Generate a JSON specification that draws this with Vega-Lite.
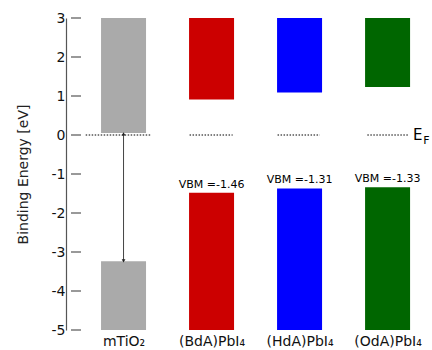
{
  "$schema": "https://vega.github.io/schema/vega-lite/v6.json",
  "width": 366,
  "height": 312,
  "autosize": {"type": "none"},
  "padding": {"left": 66, "top": 18, "right": 0, "bottom": 20},
  "background": "white",
  "config": {
    "view": {"stroke": null},
    "font": "DejaVu Sans",
    "axisY": {
      "values": [-5, -4, -3, -2, -1, 0, 1, 2, 3],
      "grid": false,
      "labelOverlap": false,
      "labelBound": false,
      "labelFlush": false,
      "domain": true,
      "domainColor": "#555555",
      "domainWidth": 1.2,
      "ticks": false,
      "tickSize": 0,
      "labelFont": "DejaVu Sans",
      "labelFontSize": 14,
      "labelColor": "#111111",
      "labelPadding": 1,
      "titleFont": "DejaVu Sans",
      "titleFontSize": 14,
      "titleFontWeight": "normal",
      "titleColor": "#222222",
      "titlePadding": 21,
      "labelExpr": "replace(datum.label, '−', '-')"
    },
    "axisX": {
      "domain": false,
      "ticks": false,
      "grid": false,
      "labelOverlap": false,
      "labelFont": "DejaVu Sans",
      "labelFontSize": 14,
      "labelColor": "#111111",
      "labelPadding": 4
    }
  },
  "datasets": {
    "bands": [
      {"pos": 1, "name": "mTiO2", "lo": 0.05, "hi": 3},
      {"pos": 1, "name": "mTiO2", "lo": -5, "hi": -3.24},
      {"pos": 2, "name": "BdA", "lo": 0.91, "hi": 3},
      {"pos": 2, "name": "BdA", "lo": -5, "hi": -1.48},
      {"pos": 3, "name": "HdA", "lo": 1.09, "hi": 3},
      {"pos": 3, "name": "HdA", "lo": -5, "hi": -1.37},
      {"pos": 4, "name": "OdA", "lo": 1.23, "hi": 3},
      {"pos": 4, "name": "OdA", "lo": -5, "hi": -1.34}
    ],
    "yticks": [
      {"v": -5}, {"v": -4}, {"v": -3}, {"v": -2}, {"v": -1},
      {"v": 0}, {"v": 1}, {"v": 2}, {"v": 3}
    ],
    "fermi": [
      {"x1": 0.57, "x2": 1.31, "e": 0},
      {"x1": 1.75, "x2": 2.24, "e": 0},
      {"x1": 2.75, "x2": 3.23, "e": 0},
      {"x1": 3.77, "x2": 4.24, "e": 0}
    ],
    "vbm": [
      {"pos": 2, "top": -1.48, "label": "VBM =-1.46"},
      {"pos": 3, "top": -1.37, "label": "VBM =-1.31"},
      {"pos": 4, "top": -1.34, "label": "VBM =-1.33"}
    ],
    "gap": [
      {"pos": 1, "e": 0.03, "end": "top"},
      {"pos": 1, "e": -3.23, "end": "bottom"}
    ]
  },
  "layer": [
    {
      "data": {"name": "bands"},
      "mark": {"type": "bar", "width": 45},
      "encoding": {
        "x": {
          "field": "pos", "type": "quantitative",
          "scale": {"domain": [0.403, 4.448], "nice": false, "zero": false},
          "axis": {
            "title": null,
            "values": [1, 2, 3, 4],
            "labelExpr": "datum.value == 1 ? 'mTiO₂' : datum.value == 2 ? '(BdA)PbI₄' : datum.value == 3 ? '(HdA)PbI₄' : '(OdA)PbI₄'"
          }
        },
        "y": {
          "field": "lo", "type": "quantitative",
          "scale": {"domain": [-5, 3], "nice": false, "zero": false},
          "title": "Binding Energy [eV]"
        },
        "y2": {"field": "hi"},
        "color": {
          "field": "name", "type": "nominal",
          "scale": {"domain": ["mTiO2", "BdA", "HdA", "OdA"], "range": ["#aaaaaa", "#cc0000", "#0000ff", "#006600"]},
          "legend": null
        }
      }
    },
    {
      "data": {"name": "yticks"},
      "mark": {"type": "tick", "orient": "horizontal", "size": 10, "thickness": 1.2, "color": "#555555", "xOffset": 5, "opacity": 1},
      "encoding": {
        "x": {"datum": 0.403},
        "y": {"field": "v", "type": "quantitative"}
      }
    },
    {
      "data": {"name": "fermi"},
      "mark": {"type": "rule", "strokeDash": [1.5, 1.5], "strokeWidth": 1, "color": "#000000"},
      "encoding": {
        "x": {"field": "x1", "type": "quantitative"},
        "x2": {"field": "x2"},
        "y": {"field": "e", "type": "quantitative"}
      }
    },
    {
      "data": {"name": "gap"},
      "mark": {"type": "rule", "strokeWidth": 1, "color": "#444444"},
      "encoding": {
        "x": {"field": "pos", "type": "quantitative", "aggregate": "min"},
        "y": {"field": "e", "type": "quantitative", "aggregate": "min"},
        "y2": {"field": "e", "aggregate": "max"}
      }
    },
    {
      "data": {"name": "gap"},
      "mark": {"type": "point", "filled": true, "size": 14, "color": "#222222", "opacity": 1},
      "encoding": {
        "x": {"field": "pos", "type": "quantitative"},
        "y": {"field": "e", "type": "quantitative"},
        "shape": {
          "field": "end", "type": "nominal",
          "scale": {"domain": ["top", "bottom"], "range": ["triangle-up", "triangle-down"]},
          "legend": null
        }
      }
    },
    {
      "data": {"name": "vbm"},
      "mark": {"type": "text", "baseline": "bottom", "dy": -3, "fontSize": 11, "font": "DejaVu Sans", "color": "#000000"},
      "encoding": {
        "x": {"field": "pos", "type": "quantitative"},
        "y": {"field": "top", "type": "quantitative"},
        "text": {"field": "label"}
      }
    },
    {
      "data": {"values": [{"x": 4.29, "e": 0, "t": "E"}]},
      "mark": {"type": "text", "align": "left", "baseline": "middle", "fontSize": 15, "font": "DejaVu Sans", "color": "#000000"},
      "encoding": {
        "x": {"field": "x", "type": "quantitative"},
        "y": {"field": "e", "type": "quantitative"},
        "text": {"field": "t"}
      }
    },
    {
      "data": {"values": [{"x": 4.405, "e": 0, "t": "F"}]},
      "mark": {"type": "text", "align": "left", "baseline": "middle", "dy": 6, "fontSize": 11, "font": "DejaVu Sans", "color": "#000000"},
      "encoding": {
        "x": {"field": "x", "type": "quantitative"},
        "y": {"field": "e", "type": "quantitative"},
        "text": {"field": "t"}
      }
    }
  ]
}
